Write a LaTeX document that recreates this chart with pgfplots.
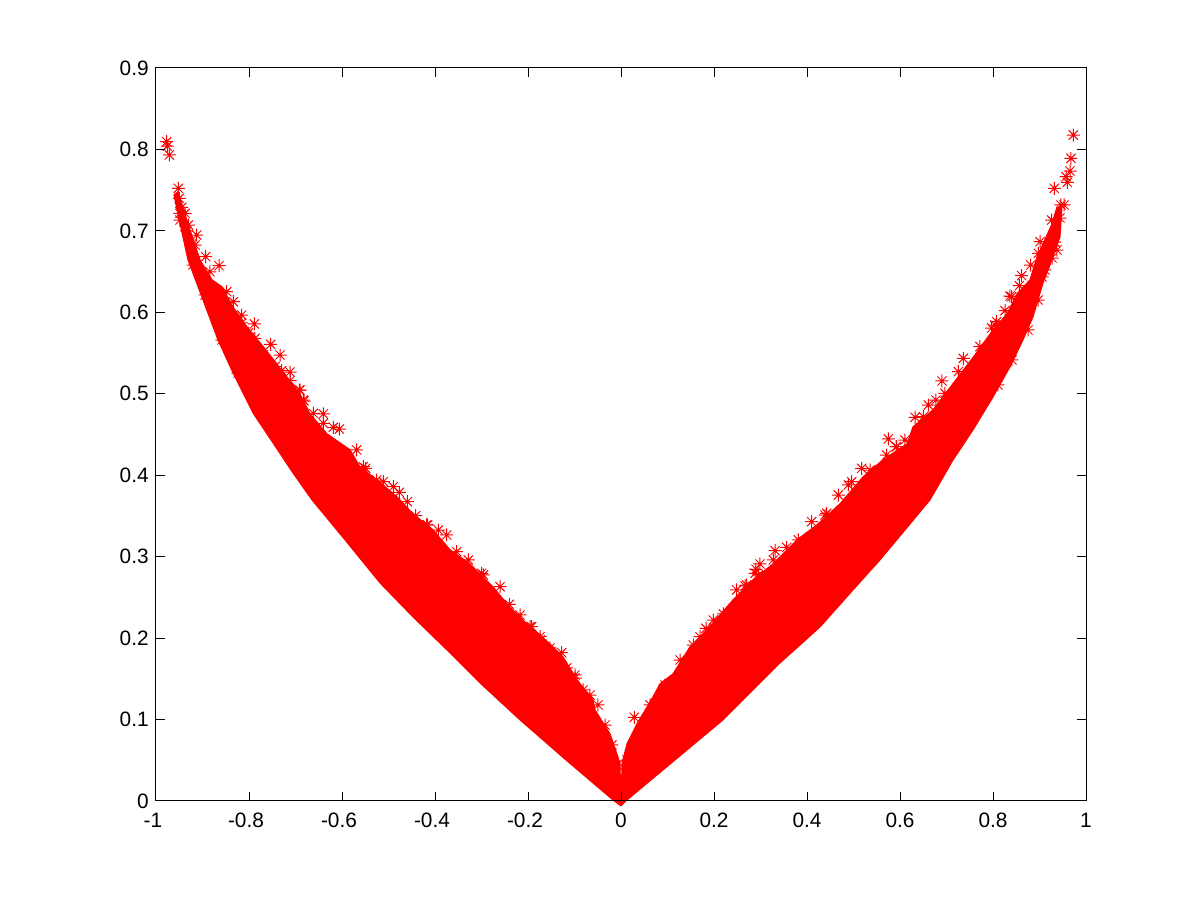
\documentclass[border=0pt]{standalone}
\usepackage{fontspec}
\setmainfont{Liberation Sans}
\usepackage{pgfplots}
\pgfplotsset{compat=1.18}
\definecolor{mred}{HTML}{FF0000}
% matlab-like star: four crossed strokes
\pgfdeclareplotmark{mstar}{%
 \pgfpathmoveto{\pgfqpoint{\pgfplotmarksize}{0pt}}\pgfpathlineto{\pgfqpoint{-\pgfplotmarksize}{0pt}}%
 \pgfpathmoveto{\pgfqpoint{0pt}{\pgfplotmarksize}}\pgfpathlineto{\pgfqpoint{0pt}{-\pgfplotmarksize}}%
 \pgfpathmoveto{\pgfpointpolar{45}{\pgfplotmarksize}}\pgfpathlineto{\pgfpointpolar{225}{\pgfplotmarksize}}%
 \pgfpathmoveto{\pgfpointpolar{135}{\pgfplotmarksize}}\pgfpathlineto{\pgfpointpolar{315}{\pgfplotmarksize}}%
 \pgfusepathqstroke}
\newcommand{\neglab}[1]{#1\kern3.6pt}
\begin{document}
\begin{tikzpicture}
\begin{axis}[at={(0pt,0pt)},anchor=south west,
 scale only axis,width=558pt,height=439.8pt,
 xmin=-1,xmax=1,ymin=0,ymax=.9,clip=false,
 xtick={-1,-.8,-.6,-.4,-.2,0,.2,.4,.6,.8,1},
 xticklabels={\neglab{-1},\neglab{-0.8},\neglab{-0.6},\neglab{-0.4},\neglab{-0.2},0,0.2,0.4,0.6,0.8,1},
 ytick={0,.1,.2,.3,.4,.5,.6,.7,.8,.9},
 yticklabels={0,0.1,0.2,0.3,0.4,0.5,0.6,0.7,0.8,0.9},
 tick align=inside,major tick length=5.6pt,
 axis line style={black,line width=.6pt},tick style={black,line width=.6pt},
 tick label style={font=\fontsize{12.5}{15}\selectfont,text=black},
 xticklabel style={inner sep=0pt,yshift=-6.9pt},
 yticklabel style={inner sep=0pt,xshift=-4.2pt},
 set layers=axis on top]
% left branch
\addplot[fill=mred,draw=mred,line width=.6pt] coordinates {
(0,-0.0061) (-0.0172,0.0012) (-0.1183,0.0503) (-0.2172,0.0995) (-0.3032,0.1449)
(-0.3742,0.1854) (-0.4473,0.2259) (-0.5183,0.2677) (-0.5935,0.3205) (-0.6645,0.3696)
(-0.7054,0.4027) (-0.7484,0.4396) (-0.7914,0.4764) (-0.8344,0.5255) (-0.8667,0.5660)
(-0.8989,0.6151) (-0.9312,0.6642) (-0.9548,0.7256)
(-0.9613,0.7441) (-0.9527,0.7481) (-0.9269,0.7014) (-0.9054,0.6646) (-0.8796,0.6400)
(-0.8581,0.6314) (-0.8344,0.6069) (-0.8043,0.5823) (-0.7656,0.5553) (-0.6903,0.5000)
(-0.6688,0.4755) (-0.6323,0.4509) (-0.5828,0.4313) (-0.5613,0.4104) (-0.5247,0.3944)
(-0.4817,0.3736) (-0.4473,0.3527) (-0.4043,0.3331) (-0.3677,0.3085) (-0.3247,0.2913)
(-0.2753,0.2631) (-0.2452,0.2422) (-0.2022,0.2176) (-0.1742,0.2041) (-0.1462,0.1894)
(-0.1247,0.1771) (-0.0946,0.1489) (-0.0602,0.1243) (-0.0559,0.1120) (-0.0237,0.0826)
(-0.0022,0.0467) (0,-0.0061)};
% right branch
\addplot[fill=mred,draw=mred,line width=.6pt] coordinates {
(0,-0.0061) (0.0022,0.0467) (0.0129,0.0703) (0.0344,0.0949) (0.0688,0.1280)
(0.0839,0.1440) (0.1118,0.1562) (0.1484,0.1894) (0.1849,0.2103) (0.2409,0.2471)
(0.2839,0.2717) (0.3269,0.2913) (0.3785,0.3208) (0.4215,0.3392) (0.4710,0.3650)
(0.5204,0.3981) (0.5634,0.4190) (0.6151,0.4386) (0.6280,0.4595) (0.6710,0.4804)
(0.7613,0.5479) (0.8000,0.5786) (0.8301,0.5983) (0.8516,0.6228) (0.8796,0.6400)
(0.8946,0.6682) (0.9075,0.6842) (0.9269,0.7088) (0.9376,0.7296) (0.9484,0.7293)
(0.9441,0.6925) (0.9226,0.6581) (0.9075,0.6360) (0.8860,0.5943) (0.8645,0.5660)
(0.8365,0.5329) (0.8000,0.4960) (0.7570,0.4555) (0.7140,0.4187) (0.6645,0.3696)
(0.5570,0.2959) (0.4989,0.2591) (0.4280,0.2136) (0.3419,0.1694) (0.2193,0.0995)
(0.0129,0.0012) (0,-0.0061)};
% outer stars, left
\addplot[only marks,mark=mstar,mark size=3.9pt,mark options={draw=mred,line width=.6pt}] coordinates {
(-0.9770,0.8095) (-0.9757,0.8042) (-0.9714,0.7932) (-0.9520,0.7523) (-0.9499,0.7400)
(-0.9447,0.7289) (-0.9484,0.7216) (-0.9376,0.7216) (-0.9305,0.7072) (-0.9125,0.6949)
(-0.9161,0.6826) (-0.8931,0.6683) (-0.8645,0.6572) (-0.8839,0.6498) (-0.8480,0.6253)
(-0.8337,0.6130) (-0.8157,0.5967) (-0.7886,0.5857) (-0.7871,0.5681) (-0.7533,0.5607)
(-0.7333,0.5476) (-0.7118,0.5267) (-0.6903,0.5046) (-0.6817,0.4911) (-0.6402,0.4752)
(-0.6187,0.4588) (-0.6058,0.4567) (-0.5684,0.4310) (-0.5490,0.4085) (-0.5112,0.3920)
(-0.4768,0.3790) (-0.4596,0.3675) (-0.4415,0.3503) (-0.4178,0.3389) (-0.3748,0.3266)
(-0.3533,0.3061) (-0.3284,0.2959) (-0.2996,0.2796) (-0.2602,0.2631) (-0.2402,0.2415)
(-0.2172,0.2284) (-0.1957,0.2140) (-0.1742,0.1977) (-0.1527,0.1879) (-0.1275,0.1821)
(-0.0989,0.1547) (-0.0667,0.1301)
(-0.8157,0.5869) (-0.8015,0.5746) (-0.7692,0.5476) (-0.7441,0.5333) (-0.7297,0.5283)
(-0.7118,0.5160) (-0.6918,0.5046) (-0.6832,0.4923) (-0.6617,0.4760) (-0.6402,0.4637)
(-0.5542,0.4105) (-0.5254,0.3941) (-0.4897,0.3859) (-0.3929,0.3327) (-0.1920,0.2140)
(-0.1742,0.2017) (-0.1168,0.1633) (-0.0989,0.1510) (-0.2961,0.2775) (-0.4157,0.3389)
(-0.0817,0.1363) (-0.0495,0.1179) (-0.0344,0.0933) (-0.0194,0.0688) (-0.0086,0.0442)
(-0.9204,0.6581) (-0.8946,0.6213) (-0.8581,0.5660) (-0.8237,0.5255) (-0.9484,0.7133)
(-0.9340,0.7000)};
% outer stars, right
\addplot[only marks,mark=mstar,mark size=3.9pt,mark options={draw=mred,line width=.6pt}] coordinates {
(0.0286,0.1028) (0.1699,0.2017) (0.1828,0.2120) (0.2200,0.2296) (0.2488,0.2591)
(0.2703,0.2652) (0.2882,0.2796) (0.2989,0.2910) (0.3275,0.2959) (0.3312,0.3073)
(0.3563,0.3115) (0.3813,0.3205) (0.4101,0.3429) (0.4424,0.3532) (0.4673,0.3757)
(0.4888,0.3880) (0.5176,0.4085) (0.5419,0.4027) (0.5748,0.4445) (0.5714,0.4248)
(0.5929,0.4350) (0.6323,0.4711) (0.6609,0.4862) (0.6774,0.4923) (0.6903,0.5157)
(0.7361,0.5435) (0.7720,0.5578) (0.7972,0.5807) (0.8080,0.5885) (0.8258,0.6020)
(0.8402,0.6192) (0.8566,0.6327) (0.8617,0.6450) (0.8811,0.6581) (0.8974,0.6725)
(0.9011,0.6867) (0.9262,0.7133) (0.9318,0.7523) (0.9462,0.7318) (0.9527,0.7318)
(0.9441,0.7158) (0.9598,0.7596) (0.9570,0.7665) (0.9656,0.7735) (0.9677,0.7891)
(0.9727,0.8177) (0.9376,0.6765) (0.9333,0.6863) (0.9269,0.6667) (0.9054,0.6434)
(0.1555,0.1915) (0.1985,0.2222) (0.2667,0.2640) (0.2903,0.2845) (0.2953,0.2775)
(0.3133,0.2775) (0.4387,0.3511) (0.4961,0.3920) (0.5914,0.4350) (0.6501,0.4718)
(0.6967,0.5006) (0.7254,0.5271) (0.8043,0.5844) (0.8365,0.6200) (0.0409,0.0810)
(0.0624,0.1179) (0.0946,0.1424) (0.1269,0.1731) (0.0129,0.0503) (0.5355,0.4064)
(0.6107,0.4432) (0.9118,0.6520) (0.8968,0.6151) (0.8753,0.5783) (0.8408,0.5415)
(0.8107,0.5108)};
\end{axis}
\path[use as bounding box] (-93.6pt,-59.4pt) rectangle (626.4pt,480.6pt);
\end{tikzpicture}
\end{document}
